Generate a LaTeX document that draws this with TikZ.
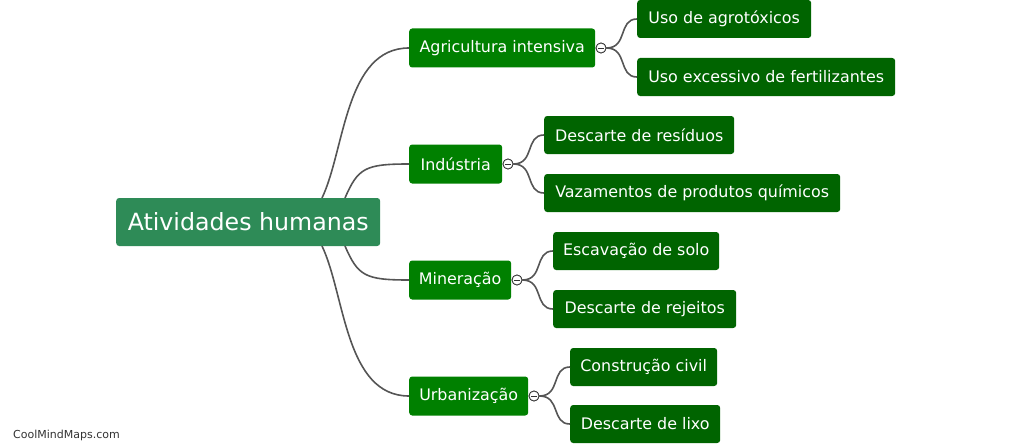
\documentclass[tikz,border=0pt]{standalone}
\usepackage{fontspec}
\setmainfont{DejaVu Sans}
\usetikzlibrary{calc}
\definecolor{rootc}{HTML}{2E8B57}
\definecolor{lvone}{HTML}{008000}
\definecolor{lvtwo}{HTML}{006400}
\definecolor{linec}{HTML}{555555}
\tikzset{
  rootbox/.style={fill=rootc, text=white, rounded corners=3pt, anchor=west, minimum height=48pt, inner xsep=0pt, font=\fontsize{23.7}{26}\selectfont},
  onebox/.style={fill=lvone, text=white, rounded corners=3pt, anchor=west, minimum height=39pt, inner xsep=0pt, font=\fontsize{15.9}{18}\selectfont},
  twobox/.style={fill=lvtwo, text=white, rounded corners=3pt, anchor=west, minimum height=38pt, inner xsep=0pt, font=\fontsize{15.9}{18}\selectfont},
  conn/.style={draw=linec, line width=1.6pt},
  toggle/.style={circle, draw=black!80, fill=white, line width=0.8pt, minimum size=10pt, inner sep=0pt},
}
\begin{document}
\begin{tikzpicture}[x=1pt,y=-1pt]
\useasboundingbox (0,0) rectangle (1023,444);
% root
\node[rootbox, minimum width=264pt] (root) at (116,222) {Atividades humanas};
% level 1
\node[onebox, minimum width=186pt] (agr) at (409,48) {Agricultura intensiva};
\node[onebox, minimum width=93pt] (ind) at (409,164) {Indústria};
\node[onebox, minimum width=102pt] (min) at (409,280) {Mineração};
\node[onebox, minimum width=119pt] (urb) at (409,396) {Urbanização};
% level 2
\node[twobox, minimum width=174pt] (a1) at (637,19) {Uso de agrotóxicos};
\node[twobox, minimum width=258pt] (a2) at (637,77) {Uso excessivo de fertilizantes};
\node[twobox, minimum width=190pt] (i1) at (544,135) {Descarte de resíduos};
\node[twobox, minimum width=296pt] (i2) at (544,193) {Vazamentos de produtos químicos};
\node[twobox, minimum width=166pt] (m1) at (553,251) {Escavação de solo};
\node[twobox, minimum width=183pt] (m2) at (553,309) {Descarte de rejeitos};
\node[twobox, minimum width=147pt] (u1) at (570,367) {Construção civil};
\node[twobox, minimum width=150pt] (u2) at (570,424) {Descarte de lixo};
% root connection points
\coordinate (ra) at (322,198);
\coordinate (rb) at (345,198);
\coordinate (rc) at (345,246);
\coordinate (rd) at (322,246);
\draw[conn] (ra) .. controls (345,150) and (345,48) .. (agr.west);
\draw[conn] (rb) .. controls (358,168) and (365,164) .. (ind.west);
\draw[conn] (rc) .. controls (358,276) and (365,280) .. (min.west);
\draw[conn] (rd) .. controls (345,294) and (345,396) .. (urb.west);
% toggles
\node[toggle] (ta) at (601,48) {};
\node[toggle] (ti) at (508,164) {};
\node[toggle] (tm) at (517,280) {};
\node[toggle] (tu) at (534,396) {};
\draw[conn] (ta.east) .. controls (628,48) and (618,19) .. (a1.west);
\draw[conn] (ta.east) .. controls (628,48) and (618,77) .. (a2.west);
\draw[conn] (ti.east) .. controls (535,164) and (525,135) .. (i1.west);
\draw[conn] (ti.east) .. controls (535,164) and (525,193) .. (i2.west);
\draw[conn] (tm.east) .. controls (544,280) and (534,251) .. (m1.west);
\draw[conn] (tm.east) .. controls (544,280) and (534,309) .. (m2.west);
\draw[conn] (tu.east) .. controls (561,396) and (551,367) .. (u1.west);
\draw[conn] (tu.east) .. controls (561,396) and (551,424) .. (u2.west);
\foreach \t in {ta,ti,tm,tu}{
  \node[toggle] at (\t) {};
  \draw[black!80, line width=0.9pt] ($(\t)+(-3,0)$) -- ($(\t)+(3,0)$);
}
% watermark
\node[anchor=west, text=black!80, font=\fontsize{11}{13}\selectfont, inner sep=0pt] (wm) at (13,435) {CoolMindMaps.com};
\end{tikzpicture}
\end{document}
